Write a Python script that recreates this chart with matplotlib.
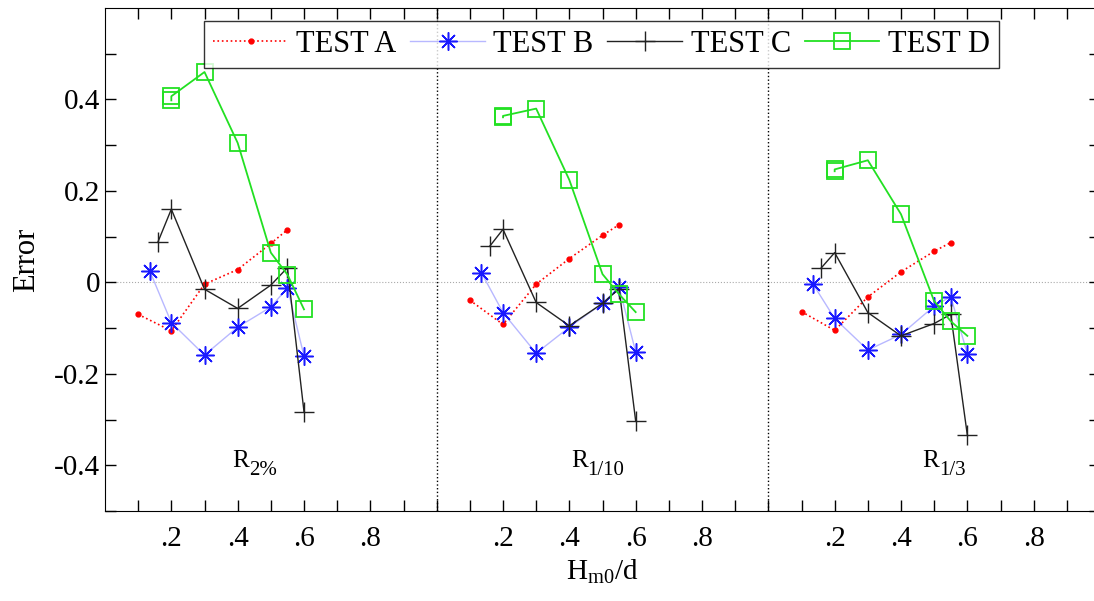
import matplotlib
matplotlib.use("Agg")
import matplotlib.pyplot as plt
import numpy as np

plt.rcParams['font.family'] = ['Liberation Serif', 'DejaVu Serif']
plt.rcParams['mathtext.fontset'] = 'custom'
plt.rcParams['mathtext.rm'] = 'Liberation Serif'
plt.rcParams['mathtext.it'] = 'Liberation Serif'

# x positions inside each panel (H_m0/d)
xa = [0.10, 0.20, 0.30, 0.40, 0.50, 0.55]
xb = [0.135, 0.20, 0.30, 0.40, 0.50, 0.55, 0.60]
xc = [0.16, 0.20, 0.30, 0.40, 0.50, 0.55, 0.60]
xd = [0.20, 0.20, 0.30, 0.40, 0.50, 0.55, 0.60]

# errors, one list per panel (R2%, R1/10, R1/3)
test_a = [[-0.070, -0.106, -0.004, 0.028, 0.085, 0.115],
          [-0.039, -0.092, -0.004, 0.052, 0.103, 0.126],
          [-0.064, -0.105, -0.032, 0.023, 0.068, 0.087]]
test_b = [[0.025, -0.088, -0.159, -0.098, -0.054, -0.012, -0.161],
          [0.021, -0.066, -0.155, -0.098, -0.046, -0.010, -0.152],
          [-0.004, -0.079, -0.148, -0.114, -0.052, -0.031, -0.156]]
test_c = [[0.089, 0.160, -0.015, -0.057, -0.006, 0.032, -0.283],
          [0.079, 0.116, -0.044, -0.095, -0.046, -0.014, -0.303],
          [0.032, 0.065, -0.066, -0.117, -0.090, -0.070, -0.334]]
test_d = [[0.398, 0.407, 0.460, 0.305, 0.065, 0.017, -0.059],
          [0.361, 0.364, 0.380, 0.224, 0.018, -0.026, -0.065],
          [0.243, 0.247, 0.267, 0.149, -0.041, -0.085, -0.117]]

panel_subs = ['2%', '1/10', '1/3']
name_x = [0.41, 0.43, 0.49]

fig = plt.figure(figsize=(10.94, 6.01), dpi=100)
ax = fig.add_axes([105/1094, 90/601, 995/1094, 503/601])

asterisk = (8, 2, 0)
for i in range(3):
    lab = i == 0
    ax.plot(np.array(xa) + i, test_a[i], color='red', ls=':', lw=1.2,
            marker='o', ms=3.5, label='TEST A' if lab else None)
    ax.plot(np.array(xb) + i, test_b[i], color='#b8b8ff', ls='-', lw=1.0,
            marker=asterisk, ms=13, mec='#1a1aff', mew=1.1,
            label='TEST B' if lab else None)
    ax.plot(np.array(xc) + i, test_c[i], color='#222222', ls='-', lw=1.0,
            marker='+', ms=15, mew=1.0, label='TEST C' if lab else None)
    ax.plot(np.array(xd) + i, test_d[i], color='#22e022', ls='-', lw=1.3,
            marker='s', ms=11, mfc='none', mec='#22e022', mew=1.3,
            label='TEST D' if lab else None)
    # panel name: R with a large subscript
    ax.text(name_x[i] + i, -0.39, 'R', fontsize=18, ha='center', va='center')
    ax.annotate(panel_subs[i], xy=(name_x[i] + i, -0.39), xytext=(6, -7),
                textcoords='offset points', fontsize=15, ha='left',
                va='center')

ax.axhline(0, color='#aaaaaa', ls=':', lw=0.8, zorder=0)
for xv in [1, 2]:
    ax.axvline(xv, color='black', ls=':', lw=1.0, zorder=0)

ax.set_xlim(0, 3)
ax.set_ylim(-0.5, 0.6)

xt = np.arange(1, 30) / 10
ax.set_xticks(xt)
xl = []
for v in xt:
    frac = round((v - int(v)) * 10)
    xl.append('.%d' % frac if frac in (2, 4, 6, 8) else '')
ax.set_xticklabels(xl)
ax.set_yticks([-0.4, -0.2, 0, 0.2, 0.4])
ax.set_yticklabels(['-0.4', '-0.2', '0', '0.2', '0.4'])
ax.set_yticks(np.arange(-5, 6) / 10, minor=True)
ax.tick_params(which='both', direction='in', top=True, right=True,
               length=8, width=1, labelsize=21)
ax.tick_params(axis='x', pad=11)

ax.set_xlabel(r'H$_{\mathrm{m0}}$/d', fontsize=21, labelpad=4)
ax.set_ylabel('Error', fontsize=22, labelpad=9)

leg = ax.legend(loc='upper left', bbox_to_anchor=(0.0995, 0.975), ncol=4,
                fontsize=22, frameon=True, fancybox=False, edgecolor='black',
                handlelength=2.45, columnspacing=0.45, handletextpad=0.27,
                borderpad=0.3, borderaxespad=0)
leg.get_frame().set_linewidth(1.0)

fig.savefig('out.png', dpi=100)
